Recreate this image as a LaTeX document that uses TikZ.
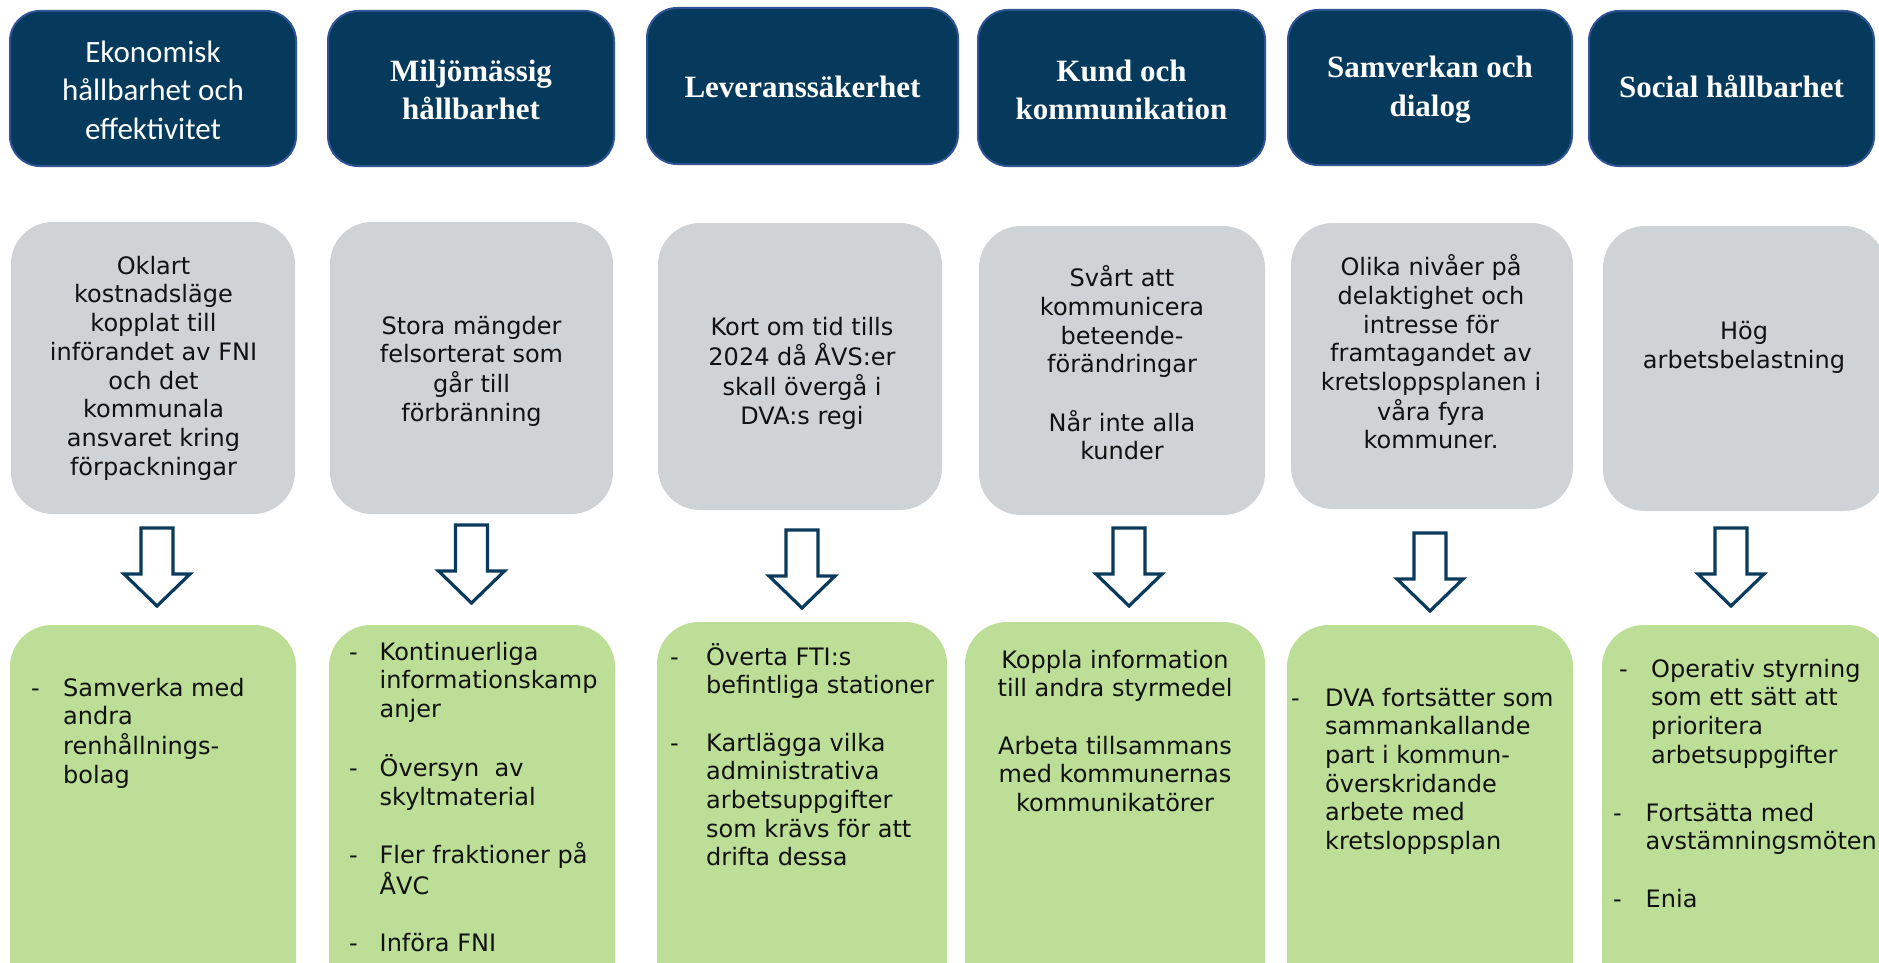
\documentclass[tikz,border=0pt]{standalone}
\usepackage{fontspec}
\setmainfont{DejaVu Sans}
\newfontfamily\calibfont{Carlito}
\newfontfamily\serffont{Liberation Serif}
\definecolor{navy}{HTML}{053A5D}
\definecolor{navyedge}{HTML}{2F5496}
\definecolor{boxgrey}{HTML}{CFD3D5}
\definecolor{boxgreen}{HTML}{BDDE96}
\definecolor{arrowblue}{HTML}{0A3A5C}
\definecolor{txt}{HTML}{111111}
\tikzset{
  headbox/.style={draw=navyedge, line width=2pt, fill=navy, rounded corners=30pt, inner sep=0pt},
  greybox/.style={fill=boxgrey, rounded corners=42pt, inner sep=0pt},
  greenbox/.style={fill=boxgreen, rounded corners=42pt, inner sep=0pt},
  headtxt/.style={text=white, inner sep=0pt, font=\serffont\bfseries\fontsize{31}{38.5}\selectfont},
  headtxtsans/.style={text=white, inner sep=0pt, font=\calibfont\fontsize{31}{38.5}\selectfont},
  bodytxt/.style={text=txt, inner sep=0pt, font=\fontsize{24}{28.7}\selectfont},
  listtxt/.style={text=txt, inner sep=0pt, anchor=base west, font=\fontsize{24}{28.7}\selectfont},
  blockarrow/.style={draw=arrowblue, line width=3.2pt, fill=white, line join=miter},
  downarrow/.pic={\draw[blockarrow] (-16,0) -- (-16,46) -- (-33,46) -- (0,78) -- (33,46) -- (16,46) -- (16,0) -- cycle;}
}
\newcommand\boxat[6]{\node[#1, minimum width={(#4)-(#3)}, minimum height={(#6)-(#5)}] (#2) at ({((#3)+(#4))/2},{((#5)+(#6))/2}) {};}
\newcommand\dsh[1]{\makebox[#1][l]{-}}
\begin{document}
\begin{tikzpicture}[x=1pt,y=-1pt]
\useasboundingbox (0,0) rectangle (1879,963);
\clip (0,0) rectangle (1879,963);
\fill[white] (0,0) rectangle (1879,963);

% header boxes
\boxat{headbox}{h1}{10}{296}{11}{166}
\boxat{headbox}{h2}{328}{614}{11}{166}
\boxat{headbox}{h3}{647}{958}{8}{164}
\boxat{headbox}{h4}{978}{1265}{10}{166}
\boxat{headbox}{h5}{1288}{1572}{10}{165}
\boxat{headbox}{h6}{1589}{1874}{11}{166}

\node[headtxtsans] (ht1) at (153,93) {\begin{tabular}{@{}c@{}}Ekonomisk\\ hållbarhet och\\ effektivitet\end{tabular}};
\node[headtxt] (ht2) at (471,93) {\begin{tabular}{@{}c@{}}Miljömässig\\ hållbarhet\end{tabular}};
\node[headtxt] (ht3) at (802.5,90) {\begin{tabular}{@{}c@{}}Leveranssäkerhet\end{tabular}};
\node[headtxt] (ht4) at (1121.5,93) {\begin{tabular}{@{}c@{}}Kund och\\ kommunikation\end{tabular}};
\node[headtxt] (ht5) at (1430,89.5) {\begin{tabular}{@{}c@{}}Samverkan och\\ dialog\end{tabular}};
\node[headtxt] (ht6) at (1731.5,90) {\begin{tabular}{@{}c@{}}Social hållbarhet\end{tabular}};

% grey boxes
\boxat{greybox}{g1}{11}{295}{222}{514}
\boxat{greybox}{g2}{330}{613}{222}{514}
\boxat{greybox}{g3}{658}{942}{223}{510}
\boxat{greybox}{g4}{979}{1265}{226}{515}
\boxat{greybox}{g5}{1291}{1573}{223}{509}
\boxat{greybox}{g6}{1603}{1886}{226}{511}

\node[bodytxt] (gt1) at (153.5,369) {\begin{tabular}{@{}c@{}}Oklart\\ kostnadsläge\\ kopplat till\\ införandet av FNI\\ och det\\ kommunala\\ ansvaret kring\\ förpackningar\end{tabular}};
\node[bodytxt] (gt2) at (471.5,372) {\begin{tabular}{@{}c@{}}Stora mängder\\ felsorterat som\\ går till\\ förbränning\end{tabular}};
\node[bodytxt] (gt3) at (802,374) {\begin{tabular}{@{}c@{}}Kort om tid tills\\ 2024 då ÅVS:er\\ skall övergå i\\ DVA:s regi\end{tabular}};
\node[bodytxt] (gt4) at (1122,367) {\begin{tabular}{@{}c@{}}Svårt att\\ kommunicera\\ beteende-\\ förändringar\\ \\ Når inte alla\\ kunder\end{tabular}};
\node[bodytxt] (gt5) at (1431,356) {\begin{tabular}{@{}c@{}}Olika nivåer på\\ delaktighet och\\ intresse för\\ framtagandet av\\ kretsloppsplanen i\\ våra fyra\\ kommuner.\end{tabular}};
\node[bodytxt] (gt6) at (1744,348) {\begin{tabular}{@{}c@{}}Hög\\ arbetsbelastning\end{tabular}};

% arrows
\coordinate (a1) at (157,528);
\coordinate (a2) at (471.5,525);
\coordinate (a3) at (802,530);
\coordinate (a4) at (1129,528);
\coordinate (a5) at (1430,533);
\coordinate (a6) at (1731,528);
\foreach \a in {a1,a2,a3,a4,a5,a6} {\pic at (\a) {downarrow};}

% green boxes
\boxat{greenbox}{k1}{10}{296}{625}{1010}
\boxat{greenbox}{k2}{329}{615}{625}{1010}
\boxat{greenbox}{k3}{657}{947}{622}{1010}
\boxat{greenbox}{k4}{965}{1265}{622}{1010}
\boxat{greenbox}{k5}{1287}{1573}{625}{1010}
\boxat{greenbox}{k6}{1602}{1890}{625}{1010}

\node[listtxt] (kt1) at (31,696) {\begin{tabular}[t]{@{}l@{}l@{}}\dsh{32pt}& Samverka med\\ & andra\\ & renhållnings-\\ & bolag\end{tabular}};
\node[listtxt] (kt2) at (349,660) {\begin{tabular}[t]{@{}l@{}l@{}}\dsh{30.5pt}& Kontinuerliga\\ & informationskamp\\ & anjer\\ & \\ \dsh{30.5pt}& Översyn\ \ av\\ & skyltmaterial\\ & \\ \dsh{30.5pt}& Fler fraktioner på\\ & ÅVC\\ & \\ \dsh{30.5pt}& Införa FNI\end{tabular}};
\node[listtxt] (kt3) at (670,665) {\begin{tabular}[t]{@{}l@{}l@{}}\dsh{36pt}& Överta FTI:s\\ & befintliga stationer\\ & \\ \dsh{36pt}& Kartlägga vilka\\ & administrativa\\ & arbetsuppgifter\\ & som krävs för att\\ & drifta dessa\end{tabular}};
\node[bodytxt, anchor=base] (kt4) at (1115,668) {\begin{tabular}[t]{@{}c@{}}Koppla information\\ till andra styrmedel\\ \\ Arbeta tillsammans\\ med kommunernas\\ kommunikatörer\end{tabular}};
\node[listtxt] (kt5) at (1291,706) {\begin{tabular}[t]{@{}l@{}l@{}}\dsh{34pt}& DVA fortsätter som\\ & sammankallande\\ & part i kommun-\\ & överskridande\\ & arbete med\\ & kretsloppsplan\end{tabular}};
\node[listtxt] (kt6a) at (1619,677) {\begin{tabular}[t]{@{}l@{}l@{}}\dsh{32pt}& Operativ styrning\\ & som ett sätt att\\ & prioritera\\ & arbetsuppgifter\end{tabular}};
\node[listtxt] (kt6b) at (1613,821) {\begin{tabular}[t]{@{}l@{}l@{}}\dsh{32.5pt}& Fortsätta med\\ & avstämningsmöten\\ & \\ \dsh{32.5pt}& Enia\end{tabular}};
\end{tikzpicture}
\end{document}
